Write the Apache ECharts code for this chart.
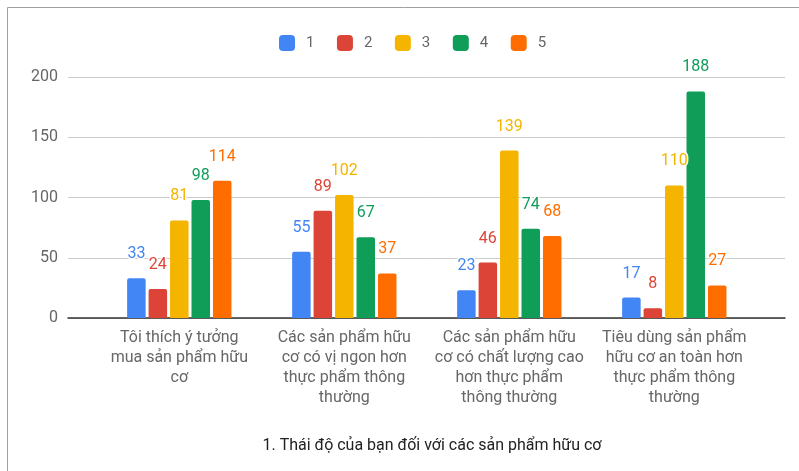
<!DOCTYPE html>
<html>
<head>
<meta charset="utf-8">
<script src="https://cdn.jsdelivr.net/npm/echarts@6/dist/echarts.min.js"></script>
<style>
  html, body { margin: 0; padding: 0; background: #fff; }
  #chart { width: 799px; height: 471px; }
</style>
</head>
<body>
<div id="chart"></div>
<script>
    var categories = [
        'Tôi thích ý tưởng\nmua sản phẩm hữu\ncơ',
        'Các sản phẩm hữu\ncơ có vị ngon hơn\nthực phẩm thông\nthường',
        'Các sản phẩm hữu\ncơ có chất lượng cao\nhơn thực phẩm\nthông thường',
        'Tiêu dùng sản phẩm\nhữu cơ an toàn hơn\nthực phẩm thông\nthường'
    ];
    var seriesNames = ['1', '2', '3', '4', '5'];
    var s1 = [33, 55, 23, 17];
    var s2 = [24, 89, 46, 8];
    var s3 = [81, 102, 139, 110];
    var s4 = [98, 67, 74, 188];
    var s5 = [114, 37, 68, 27];
    var colors = ['#4285f4', '#db4437', '#f4b400', '#0f9d58', '#ff6d01'];
    var titleText = '1. Thái độ của bạn đối với các sản phẩm hữu cơ';

    var allValues = [s1, s2, s3, s4, s5];

    var myChart = echarts.init(document.getElementById('chart'));

    var series = [];
    for (var i = 0; i < seriesNames.length; i++) {
        series.push({
            name: seriesNames[i],
            type: 'bar',
            xAxisIndex: 0,
            yAxisIndex: 0,
            data: allValues[i],
            barWidth: 18.5,
            barGap: '16%',
            itemStyle: { color: colors[i], borderRadius: [2, 2, 0, 0] },
            label: {
                show: true,
                position: 'top',
                distance: 16,
                color: colors[i],
                fontFamily: 'Roboto',
                fontSize: 16,
                textBorderColor: '#fff',
                textBorderWidth: 3
            }
        });
    }

    var option = {
        animation: false,
        color: colors,
        // thin frame at top/left like the original screenshot
        graphic: [{
            type: 'rect',
            shape: { x: 7.5, y: 7.5, width: 900, height: 600 },
            style: { fill: 'none', stroke: '#a0a0a0', lineWidth: 1 },
            z: -1
        }],
        title: {
            text: titleText,
            left: 427,
            textAlign: 'center',
            top: 433,
            textStyle: { fontFamily: 'Roboto', fontSize: 16, fontWeight: 'normal', color: '#222' }
        },
        legend: {
            data: seriesNames,
            left: 274,
            top: 30,
            icon: 'roundRect',
            itemWidth: 16,
            itemHeight: 16,
            itemGap: 22.5,
            textStyle: { fontFamily: 'Roboto', fontSize: 15, color: '#666', padding: [0, 0, 0, 6] }
        },
        grid: [
            { left: 96.8, right: 42.2, top: 77, bottom: 153 },
            { left: 68, right: 14, top: 77, bottom: 153 }
        ],
        xAxis: [
            {
                type: 'category',
                gridIndex: 0,
                data: categories,
                axisLine: { show: false },
                axisTick: { show: false },
                axisLabel: {
                    interval: 0,
                    margin: 10,
                    fontFamily: 'Roboto',
                    fontSize: 16,
                    lineHeight: 20,
                    color: '#666'
                }
            },
            {
                type: 'value',
                gridIndex: 1,
                min: 0,
                max: 1,
                axisLabel: { show: false },
                axisTick: { show: false },
                splitLine: { show: false },
                axisLine: { show: true, lineStyle: { color: '#333', width: 1.5 } }
            }
        ],
        yAxis: [
            {
                type: 'value',
                gridIndex: 0,
                min: 0,
                max: 200,
                interval: 50,
                show: false
            },
            {
                type: 'value',
                gridIndex: 1,
                min: 0,
                max: 200,
                interval: 50,
                axisLine: { show: false },
                axisTick: { show: false },
                axisLabel: { margin: 10, fontFamily: 'Roboto', fontSize: 16, color: '#666' },
                splitLine: { lineStyle: { color: '#cccccc', width: 1 } }
            }
        ],
        series: series
    };

    myChart.setOption(option);
    window.onresize = myChart.resize;
</script>
</body>
</html>
